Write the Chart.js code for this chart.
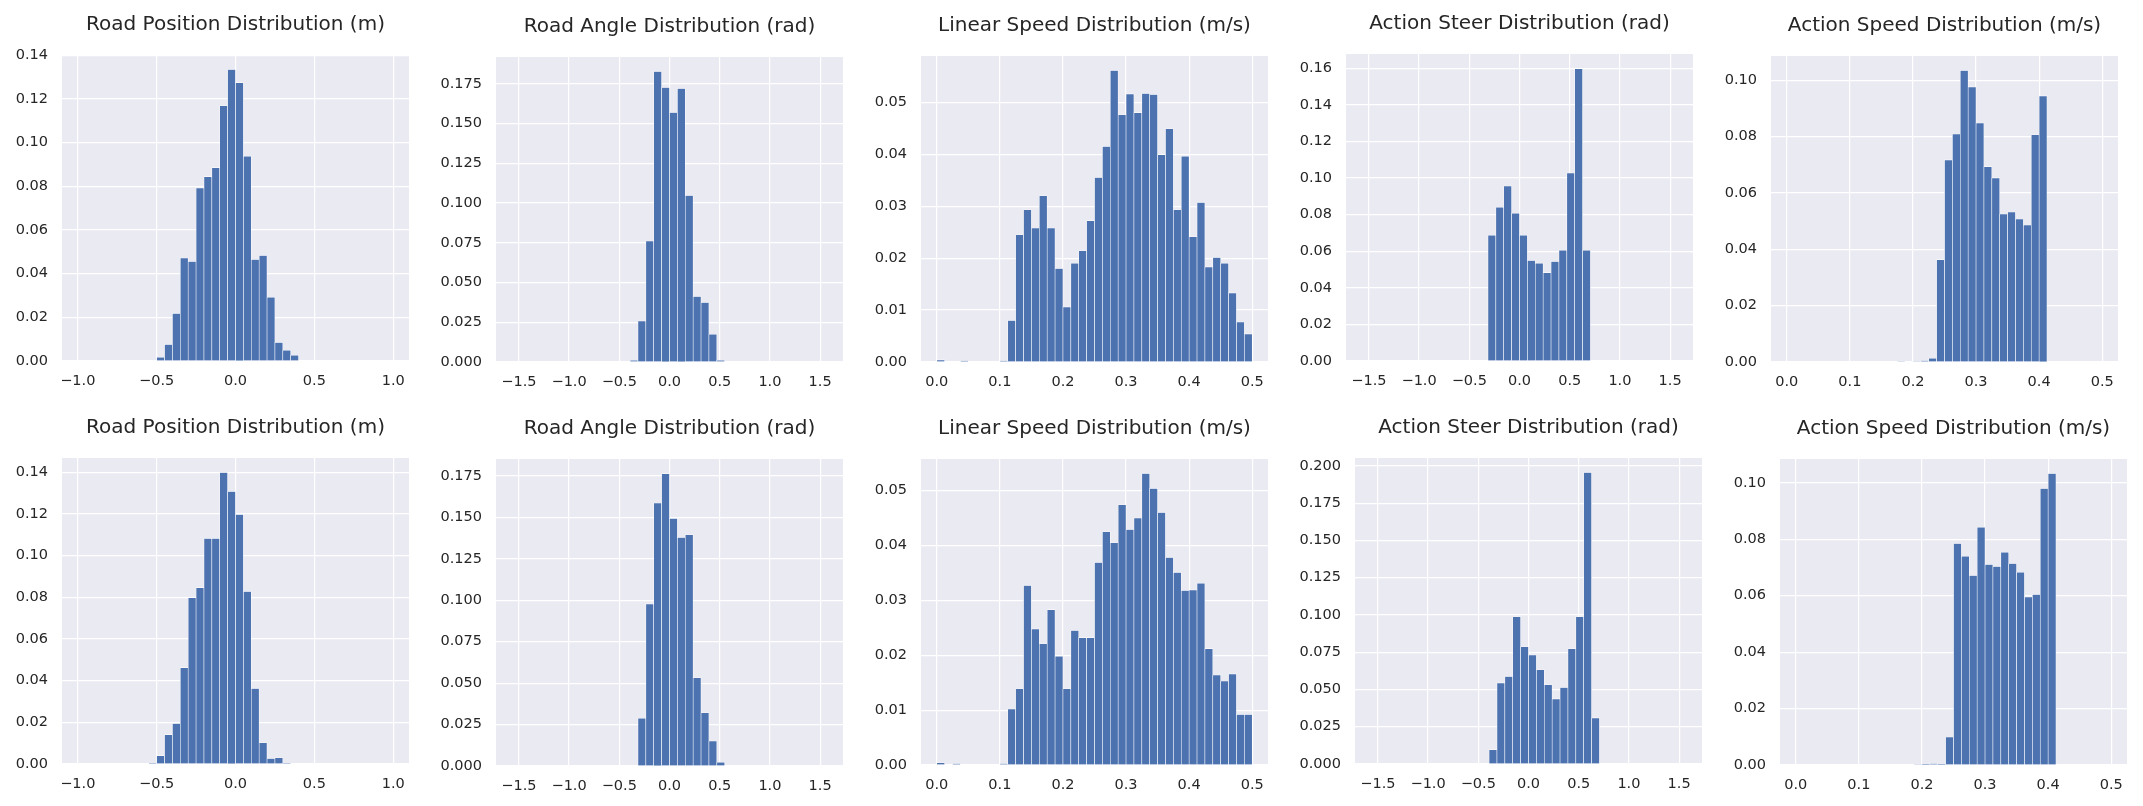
<!DOCTYPE html>
<html>
<head>
<meta charset="utf-8">
<script src="https://cdn.jsdelivr.net/npm/chart.js@4.4.1/dist/chart.umd.min.js"></script>
<style>
    body { margin: 0; background: #ffffff; width: 2143px; height: 806px; position: relative; overflow: hidden; }
    canvas { position: absolute; }
</style>
</head>
<body>
<script>
// histogram bins: 40 equal bins over each range
const binCount = 40;
const posRange = [-1, 1];
const angleRange = [-Math.PI / 2, Math.PI / 2];
const speedRange = [0, 0.5];

// tick labels
const posTicks = [-1.0, -0.5, 0.0, 0.5, 1.0];
const angleTicks = [-1.5, -1.0, -0.5, 0.0, 0.5, 1.0, 1.5];
const speedTicks = [0.0, 0.1, 0.2, 0.3, 0.4, 0.5];
const yTicks14 = [0, 0.02, 0.04, 0.06, 0.08, 0.10, 0.12, 0.14];
const yTicks175 = [0, 0.025, 0.05, 0.075, 0.1, 0.125, 0.15, 0.175];
const yTicks200 = [0, 0.025, 0.05, 0.075, 0.1, 0.125, 0.15, 0.175, 0.2];
const yTicks05 = [0, 0.01, 0.02, 0.03, 0.04, 0.05];
const yTicks16 = [0, 0.02, 0.04, 0.06, 0.08, 0.10, 0.12, 0.14, 0.16];
const yTicks10 = [0, 0.02, 0.04, 0.06, 0.08, 0.10];

// bin heights (fraction of samples), row 1
const roadPosA = [0,0,0,0,0,0,0,0,0,0,
    0.0017,0.0076,0.0218,0.0471,0.0456,0.0792,0.0844,0.0885,0.1168,0.1334,
    0.1274,0.0937,0.0465,0.0483,0.0292,0.0085,0.0049,0.0026,0,0,
    0,0,0,0,0,0,0,0,0,0];
const roadAngleA = [0,0,0,0,0,0,0,0,0,0,
    0,0,0,0,0,0.0010,0.0258,0.0761,0.1828,0.1727,
    0.1570,0.1721,0.1048,0.0413,0.0375,0.0174,0.0010,0,0,0,
    0,0,0,0,0,0,0,0,0,0];
const linSpeedA = [0.0004,0,0,0.0002,0,0,0,0,0.0002,0.0080,
    0.0245,0.0293,0.0258,0.0320,0.0258,0.0180,0.0106,0.0190,0.0214,0.0272,
    0.0355,0.0415,0.0561,0.0476,0.0516,0.0480,0.0517,0.0515,0.0399,0.0449,
    0.0293,0.0396,0.0241,0.0307,0.0183,0.0201,0.0190,0.0133,0.0077,0.0054];
const steerA = [0,0,0,0,0,0,0,0,0,0,
    0,0,0,0,0,0,0.0687,0.0840,0.0956,0.0807,
    0.0687,0.0549,0.0535,0.0483,0.0544,0.0606,0.1027,0.1598,0.0606,0,
    0,0,0,0,0,0,0,0,0,0];
const actSpeedA = [0,0,0,0,0,0,0,0,0,0,
    0,0,0,0,0.0002,0,0.0002,0.0004,0.0013,0.0363,
    0.0717,0.0809,0.1034,0.0976,0.0848,0.0693,0.0653,0.0525,0.0532,0.0507,
    0.0486,0.0806,0.0944,0,0,0,0,0,0,0];

// row 2
const roadPosB = [0,0,0,0,0,0,0,0,0,0.0003,
    0.0040,0.0141,0.0194,0.0462,0.0798,0.0846,0.1082,0.1082,0.1398,0.1307,
    0.1197,0.0827,0.0362,0.0102,0.0026,0.0030,0.0003,0,0,0,
    0,0,0,0,0,0,0,0,0,0];
const roadAngleB = [0,0,0,0,0,0,0,0,0,0,
    0,0,0,0,0,0,0.0288,0.0978,0.1587,0.1764,
    0.1494,0.1379,0.1395,0.0532,0.0321,0.0151,0.0022,0,0,0,
    0,0,0,0,0,0,0,0,0,0];
const linSpeedB = [0.0004,0,0.0002,0,0,0,0,0,0.0002,0.0102,
    0.0139,0.0327,0.0248,0.0221,0.0283,0.0198,0.0139,0.0245,0.0232,0.0232,
    0.0369,0.0425,0.0405,0.0474,0.0429,0.0450,0.0531,0.0504,0.0460,0.0378,
    0.0351,0.0318,0.0319,0.0331,0.0212,0.0164,0.0153,0.0166,0.0092,0.0092];
const steerB = [0,0,0,0,0,0,0,0,0,0,
    0,0,0,0,0,0.0096,0.0544,0.0587,0.0988,0.0786,
    0.0732,0.0632,0.0531,0.0437,0.0513,0.0773,0.0988,0.1955,0.0309,0,
    0,0,0,0,0,0,0,0,0,0];
const actSpeedB = [0,0,0,0,0,0,0,0,0,0,
    0,0,0,0,0,0.0002,0.0001,0.0005,0.0001,0.0099,
    0.0785,0.0740,0.0672,0.0843,0.0711,0.0704,0.0754,0.0714,0.0683,0.0596,
    0.0604,0.0980,0.1033,0,0,0,0,0,0,0];

const titlePos = 'Road Position Distribution (m)';
const titleAngle = 'Road Angle Distribution (rad)';
const titleLin = 'Linear Speed Distribution (m/s)';
const titleSteer = 'Action Steer Distribution (rad)';
const titleAct = 'Action Speed Distribution (m/s)';

// axes boxes in page pixels: left, right, top, bottom
const panels = [
    { title: titlePos, values: roadPosA, range: posRange, xTicks: posTicks, yTicks: yTicks14, yDec: 2, box: [62, 409, 55, 361] },
    { title: titleAngle, values: roadAngleA, range: angleRange, xTicks: angleTicks, yTicks: yTicks175, yDec: 3, box: [496, 843, 57, 362] },
    { title: titleLin, values: linSpeedA, range: speedRange, xTicks: speedTicks, yTicks: yTicks05, yDec: 2, box: [921, 1268, 56, 362] },
    { title: titleSteer, values: steerA, range: angleRange, xTicks: angleTicks, yTicks: yTicks16, yDec: 2, box: [1346, 1693, 54, 361] },
    { title: titleAct, values: actSpeedA, range: speedRange, xTicks: speedTicks, yTicks: yTicks10, yDec: 2, box: [1771, 2118, 56, 362] },
    { title: titlePos, values: roadPosB, range: posRange, xTicks: posTicks, yTicks: yTicks14, yDec: 2, box: [62, 409, 458, 764] },
    { title: titleAngle, values: roadAngleB, range: angleRange, xTicks: angleTicks, yTicks: yTicks175, yDec: 3, box: [496, 843, 459, 766] },
    { title: titleLin, values: linSpeedB, range: speedRange, xTicks: speedTicks, yTicks: yTicks05, yDec: 2, box: [921, 1268, 459, 765] },
    { title: titleSteer, values: steerB, range: angleRange, xTicks: angleTicks, yTicks: yTicks200, yDec: 3, box: [1355, 1702, 458, 764] },
    { title: titleAct, values: actSpeedB, range: speedRange, xTicks: speedTicks, yTicks: yTicks10, yDec: 2, box: [1780, 2127, 459, 765] }
];

const textColor = '#262626';
const fontFamily = 'DejaVu Sans';

// seaborn darkgrid background behind the plot area
const bgPlugin = {
    id: 'bg',
    beforeDraw(chart) {
        const a = chart.chartArea;
        const ctx = chart.ctx;
        ctx.save();
        ctx.fillStyle = '#EAEAF2';
        ctx.fillRect(a.left, a.top, a.right - a.left, a.bottom - a.top);
        ctx.restore();
    }
};

function fmt(v, d) {
    return Number(v).toFixed(d).replace('-', '\u2212');
}

function makeChart(p) {
    const yw = 60, th = 42, xh = 40, rp = 20;
    const w = p.box[1] - p.box[0];
    const h = p.box[3] - p.box[2];
    const cv = document.createElement('canvas');
    cv.width = yw + w + rp;
    cv.height = th + h + xh;
    cv.style.left = (p.box[0] - yw) + 'px';
    cv.style.top = (p.box[2] - th) + 'px';
    document.body.appendChild(cv);

    const lo = p.range[0], hi = p.range[1];
    const step = (hi - lo) / binCount;
    const pts = p.values.map((v, i) => ({ x: lo + (i + 0.5) * step, y: v }));
    const margin = (hi - lo) * 0.05;
    const ymax = Math.max(...p.values) * 1.05;

    new Chart(cv, {
        type: 'bar',
        data: {
            datasets: [{
                data: pts,
                backgroundColor: '#4C72B0',
                borderColor: '#ffffff',
                borderWidth: 0.6,
                borderSkipped: 'start',
                barPercentage: 1,
                categoryPercentage: 1
            }]
        },
        options: {
            responsive: false,
            animation: false,
            layout: { padding: { left: 0, right: rp, top: 0, bottom: 0 } },
            plugins: {
                legend: { display: false },
                tooltip: { enabled: false },
                title: {
                    display: true,
                    text: p.title,
                    fullSize: false,
                    color: textColor,
                    font: { family: fontFamily, size: 20, weight: 'normal', lineHeight: 1.2 },
                    padding: { top: 0, bottom: 18 }
                }
            },
            scales: {
                x: {
                    type: 'linear',
                    offset: false,
                    min: lo - margin,
                    max: hi + margin,
                    border: { display: false },
                    grid: { color: '#ffffff', lineWidth: 1.2, drawTicks: false, offset: false },
                    ticks: {
                        color: textColor,
                        font: { family: fontFamily, size: 14.5 },
                        padding: 12,
                        maxRotation: 0,
                        autoSkip: false,
                        callback: v => fmt(v, 1)
                    },
                    afterBuildTicks: s => { s.ticks = p.xTicks.map(v => ({ value: v })); },
                    afterFit: s => { s.height = xh; }
                },
                y: {
                    min: 0,
                    max: ymax,
                    border: { display: false },
                    grid: { color: '#ffffff', lineWidth: 1.2, drawTicks: false },
                    ticks: {
                        color: textColor,
                        font: { family: fontFamily, size: 14.5 },
                        padding: 14,
                        autoSkip: false,
                        callback: v => fmt(v, p.yDec)
                    },
                    afterBuildTicks: s => {
                        s.ticks = p.yTicks.filter(v => v <= ymax + 1e-9).map(v => ({ value: v }));
                    },
                    afterFit: s => { s.width = yw; }
                }
            }
        },
        plugins: [bgPlugin]
    });
}

panels.forEach(makeChart);
</script>
</body>
</html>
